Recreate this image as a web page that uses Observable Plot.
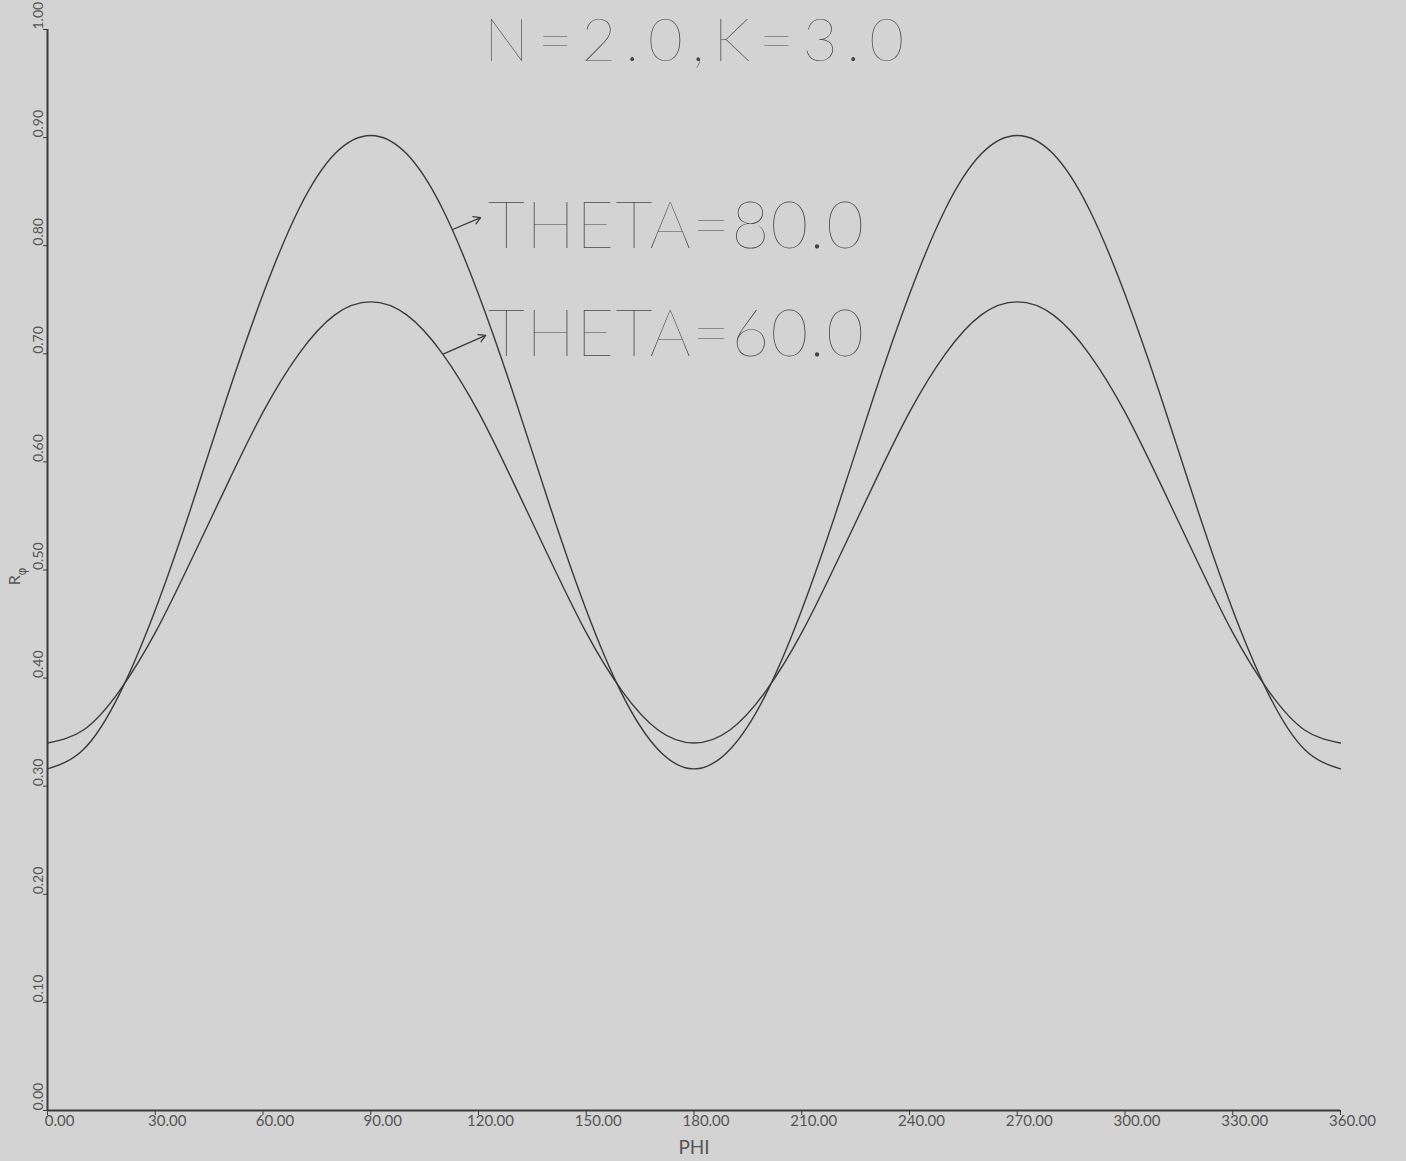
<!DOCTYPE html>
<html><head><meta charset="utf-8">
<script src="https://cdn.jsdelivr.net/npm/d3@7"></script>
<script src="https://cdn.jsdelivr.net/npm/@observablehq/plot@0.6"></script>
<style>
html,body{margin:0;padding:0;background:#d3d3d3;overflow:hidden;}
#chart svg{display:block;}
</style></head><body><div id="chart"></div>
<script>
// PHI (degrees)
const phi = [0,10,20,30,40,50,60,70,80,90,100,110,120,130,140,150,160,170,180,
             190,200,210,220,230,240,250,260,270,280,290,300,310,320,330,340,350,360];
// R for THETA = 80.0
const r80 = [0.316,0.334,0.385,0.463,0.558,0.660,0.755,0.834,0.885,0.902,0.885,0.834,0.755,0.660,0.558,0.463,0.385,0.334,0.316,
             0.334,0.385,0.463,0.558,0.660,0.755,0.834,0.885,0.902,0.885,0.834,0.755,0.660,0.558,0.463,0.385,0.334,0.316];
// R for THETA = 60.0
const r60 = [0.340,0.352,0.388,0.442,0.509,0.579,0.646,0.700,0.736,0.748,0.736,0.700,0.646,0.579,0.509,0.442,0.388,0.352,0.340,
             0.352,0.388,0.442,0.509,0.579,0.646,0.700,0.736,0.748,0.736,0.700,0.646,0.579,0.509,0.442,0.388,0.352,0.340];

const xTicks = [0,30,60,90,120,150,180,210,240,270,300,330,360];
const xTickLabels = ["0.00","30.00","60.00","90.00","120.00","150.00","180.00","210.00","240.00","270.00","300.00","330.00","360.00"];
const yTicks = [0,0.1,0.2,0.3,0.4,0.5,0.6,0.7,0.8,0.9,1.0];
const yTickLabels = ["0.00","0.10","0.20","0.30","0.40","0.50","0.60","0.70","0.80","0.90","1.00"];

const title = "N=2.0,K=3.0";
const xLabel = "PHI";
const yLabel = "R";
const yLabelSub = "φ";

// curve annotations (in data units: phi, R)
const seriesLabels = [
  {text: "THETA=80.0", phi: 122.6, r: 0.798},
  {text: "THETA=60.0", phi: 122.6, r: 0.698}
];
const seriesArrows = [
  {phi1: 112.8, r1: 0.815, phi2: 120.6, r2: 0.826},
  {phi1: 110.3, r1: 0.700, phi2: 122.0, r2: 0.717}
];

const data = phi.flatMap((p, i) => [
  {phi: p, r: r80[i], theta: "80.0"},
  {phi: p, r: r60[i], theta: "60.0"}
]);
const xTickData = xTicks.map((t, i) => ({t, label: xTickLabels[i]}));
const yTickData = yTicks.map((t, i) => ({t, label: yTickLabels[i]}));

const ink = "#3a3a3a";
const textInk = "#444";
const bigFont = "Lato, 'DejaVu Sans', sans-serif";

const chart = Plot.plot({
  width: 1406,
  height: 1161,
  marginLeft: 47,
  marginRight: 66,
  marginTop: 29,
  marginBottom: 51,
  style: {background: "#d3d3d3", color: "#3a3a3a", overflow: "hidden"},
  x: {domain: [0, 360], ticks: xTicks, tickSize: 5, tickFormat: () => "", label: null},
  y: {domain: [0, 1], ticks: yTicks, tickSize: 4, tickFormat: () => "", label: null},
  marks: [
    Plot.ruleX([0], {stroke: ink, strokeWidth: 2}),
    Plot.ruleY([0], {stroke: ink, strokeWidth: 2}),
    Plot.line(data, {x: "phi", y: "r", z: "theta", stroke: ink, strokeWidth: 1.4, curve: "natural"}),
    Plot.arrow(seriesArrows, {x1: "phi1", y1: "r1", x2: "phi2", y2: "r2", stroke: ink, strokeWidth: 1.3, headLength: 9}),
    Plot.text(seriesLabels, {x: "phi", y: "r", text: "text", textAnchor: "start", lineAnchor: "bottom",
      fontFamily: bigFont, fontWeight: 200, fontSize: 65, fill: textInk}),
    Plot.text([title], {frameAnchor: "top", lineAnchor: "bottom", dy: 31,
      fontFamily: bigFont, fontWeight: 200, fontSize: 60, fill: textInk}),
    Plot.text(xTickData, {x: "t", frameAnchor: "bottom", text: "label", lineAnchor: "top", dy: 5, dx: 12,
      fontFamily: "Lato, sans-serif", fontSize: 15, fill: "#555"}),
    Plot.text(yTickData, {y: "t", frameAnchor: "left", text: "label", rotate: -90, textAnchor: "start", lineAnchor: "bottom", dx: -5,
      fontFamily: "Lato, sans-serif", fontSize: 14, fill: "#555"}),
    Plot.text([xLabel], {frameAnchor: "bottom", lineAnchor: "top", dy: 30,
      fontFamily: "Lato, sans-serif", fontSize: 19, fill: "#555"}),
    Plot.text([{t: yLabel, r: 0.486}], {y: "r", frameAnchor: "left", text: "t", rotate: -90, textAnchor: "start", lineAnchor: "bottom", dx: -28,
      fontFamily: "Lato, sans-serif", fontSize: 16, fill: "#555"}),
    Plot.text([{t: yLabelSub, r: 0.495}], {y: "r", frameAnchor: "left", text: "t", rotate: -90, textAnchor: "start", lineAnchor: "bottom", dx: -22,
      fontFamily: "DejaVu Sans, sans-serif", fontSize: 12, fill: "#555"})
  ]
});
document.getElementById("chart").append(chart);
d3.select(chart).selectAll("text")
  .filter(function() { return this.textContent.startsWith("THETA="); })
  .attr("textLength", 376).attr("lengthAdjust", "spacing");
d3.select(chart).selectAll("text")
  .filter(function() { return this.textContent === title; })
  .attr("textLength", 420).attr("lengthAdjust", "spacing");
</script>
</body></html>
